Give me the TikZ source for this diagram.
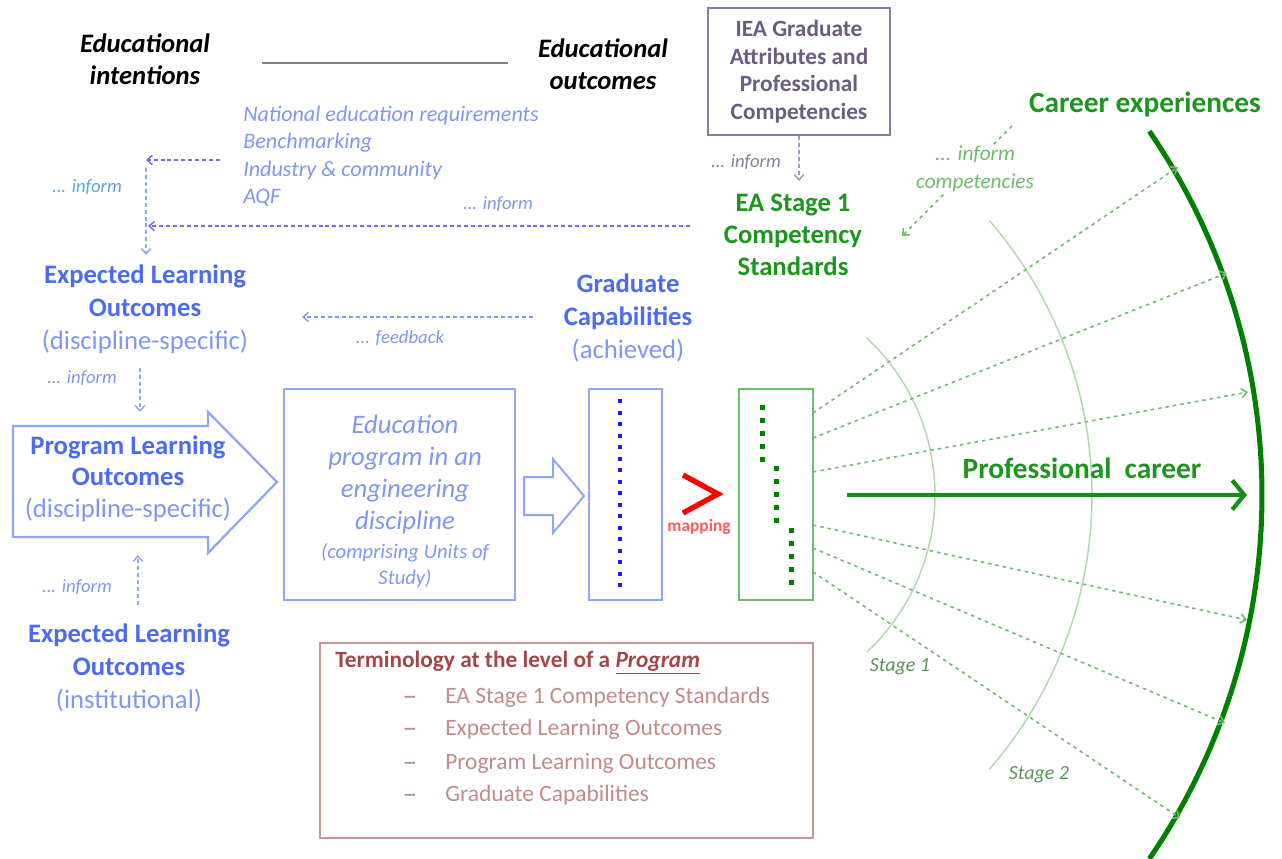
\documentclass[tikz,border=0pt]{standalone}
\usepackage{fontspec}
\setmainfont{Carlito}
\usetikzlibrary{arrows.meta}
\definecolor{tblue}{HTML}{4A6BF2}
\definecolor{lblue}{HTML}{7F97F2}
\definecolor{bblue}{HTML}{8FA6F4}
\definecolor{dblue}{HTML}{7868E6}
\definecolor{iblue}{HTML}{5EA3DC}
\definecolor{egreen}{HTML}{1C961C}
\definecolor{lgreen}{HTML}{6CBD6C}
\definecolor{agreen}{HTML}{AEDAAE}
\definecolor{dgreen}{HTML}{008000}
\definecolor{purp}{HTML}{8A7CA0}
\definecolor{purpt}{HTML}{6B5C82}
\definecolor{tred}{HTML}{A04848}
\definecolor{lred}{HTML}{C48A8A}
\definecolor{rbord}{HTML}{C99494}
\newcommand{\setfs}[2]{\fontsize{#1}{#2}\selectfont}
\tikzset{
  txt/.style={inner sep=0pt, align=center},
  bigtitle/.style={txt, font=\setfs{20}{24.75}, text=tblue},
  smallinf/.style={txt, font=\setfs{14}{17}\itshape},
  bdash/.style={dblue, line width=1.1pt, dash pattern=on 3pt off 2.2pt, -{Straight Barb[length=4pt,width=7pt]}},
  gdash/.style={lgreen, line width=1.2pt, dash pattern=on 2.6pt off 3pt, -{Straight Barb[length=4pt,width=7pt]}},
  bluebox/.style={draw=bblue, line width=1.7pt, inner sep=0pt},
  stagearc/.style={agreen, line width=1.1pt},
}
\begin{document}
\begin{tikzpicture}[x=0.75pt,y=-0.75pt]
\useasboundingbox (0,0) rectangle (1282,859);
\fill[white] (0,0) rectangle (1282,859);

% ---------- top headings ----------
\node[txt, font=\setfs{20}{24}\bfseries\itshape] (intent) at (145,59) {Educational\\intentions};
\node[txt, font=\setfs{20}{24}\bfseries\itshape] (outc) at (603,64) {Educational\\outcomes};
\coordinate (gl1) at (262,63);
\coordinate (gl2) at (508,63);
\draw[line width=2.2pt, black!50] (gl1) -- (gl2);

% ---------- IEA box ----------
\node[draw=purp, line width=1.6pt, minimum width=136.5pt, minimum height=95.25pt, txt,
      font=\setfs{17.5}{20.75}\bfseries, text=purpt] (iea) at (799,71.5)
      {IEA Graduate\\Attributes and\\Professional\\Competencies};
\node[txt, font=\setfs{20}{24}\bfseries, text=egreen] (ea) at (793,235) {EA Stage 1\\Competency\\Standards};
\coordinate (eatop) at (799,181);
\draw[purp!80, line width=1.1pt, dash pattern=on 3pt off 2.2pt, -{Straight Barb[length=4pt,width=7pt]}] (iea.south -| eatop) -- (eatop);
\node[smallinf, text=purp] (inf3) at (746,162) {... inform};

% ---------- blue requirement list ----------
\node[txt, align=left, anchor=west, font=\setfs{16.6}{20.6}\itshape, text=lblue] (list) at (243,156.5)
  {National education requirements\\Benchmarking\\Industry \& community\\AQF};
\coordinate (l1s) at (220,160);
\coordinate (j1) at (146,160);
\coordinate (j1v) at (146,168);
\coordinate (l2s) at (690,226);
\coordinate (j2) at (148,226);
\coordinate (elotop) at (146,255);
\draw[bdash] (l1s) -- (j1);
\draw[bdash] (l2s) -- (j2);
\draw[bdash, bblue] (j1v) -- (elotop);
\node[smallinf, text=iblue] (inf1) at (87,187) {... inform};
\node[smallinf, text=lblue] (inf2) at (498,204) {... inform};

% ---------- expected learning outcomes (discipline) ----------
\node[bigtitle] (elo) at (145,309.5) {\textbf{Expected Learning}\\\textbf{Outcomes}\\\textcolor{lblue}{(discipline-specific)}};

% feedback
\coordinate (fbs) at (533,317);
\coordinate (fbe) at (302,317);
\draw[bdash, lblue] (fbs) -- (fbe);
\node[smallinf, text=lblue] (fbt) at (400,338) {... feedback};

% graduate capabilities
\node[bigtitle] (grad) at (628,317.5) {\textbf{Graduate}\\\textbf{Capabilities}\\\textcolor{lblue}{(achieved)}};

% ---------- program learning outcomes ----------
\node[smallinf, text=lblue] (inf4) at (82,378) {... inform};
\coordinate (pa1) at (140,368);
\coordinate (pa2) at (140,412);
\draw[bdash, bblue] (pa1) -- (pa2);
\draw[bblue, line width=1.7pt, line join=miter] (13,426) -- (208,426) -- (208,412) -- (277,482) -- (208,553) -- (208,537) -- (13,537) -- cycle;
\node[txt, font=\setfs{20}{23.5}, text=tblue] (plo) at (128,478.5) {\textbf{Program Learning}\\\textbf{Outcomes}\\\textcolor{lblue}{(discipline-specific)}};
\coordinate (pb1) at (138,605);
\coordinate (pb2) at (138,555);
\draw[bdash, bblue] (pb1) -- (pb2);
\node[smallinf, text=lblue] (inf5) at (77,587) {... inform};
\node[bigtitle] (eloi) at (129,667.5) {\textbf{Expected Learning}\\\textbf{Outcomes}\\\textcolor{lblue}{(institutional)}};

% ---------- education program box ----------
\node[bluebox, minimum width=173.25pt, minimum height=158.25pt] (edubox) at (399.5,494.5) {};
\node[txt, font=\setfs{20}{24}\itshape, text=lblue] (edutext) at (405,474) {Education\\program in an\\engineering\\discipline};
\node[txt, font=\setfs{15.5}{19.5}\itshape, text=lblue] (educomp) at (405,566) {(comprising Units of\\Study)};

% small arrow
\draw[bblue, line width=1.5pt, line join=miter] (524,477) -- (553,477) -- (553,459) -- (584,496) -- (553,533) -- (553,515) -- (524,515) -- cycle;

% graduate box
\node[bluebox, minimum width=54.75pt, minimum height=158.25pt] (gradbox) at (625.5,494.5) {};
\foreach \i in {0,...,16} \fill[blue!90] (617.5,{399+\i*11.5}) rectangle (621.5,{403+\i*11.5});

% mapping
\draw[red, line width=4pt, line join=miter, miter limit=10] (683,475) -- (718,494) -- (683,513);
\node[txt, font=\setfs{13}{15}\bfseries, text=red!65] (mapt) at (699,527) {mapping};

% green box
\node[draw=lgreen, line width=1.7pt, inner sep=0pt, minimum width=55.5pt, minimum height=158.25pt] (gbox) at (776,494.5) {};
\foreach \x/\y in {762/407, 776/468, 791/530}
  \foreach \i in {0,...,4} \fill[dgreen] ({\x-2.5},{\y+\i*13-2.5}) rectangle ({\x+2.5},{\y+\i*13+2.5});

% ---------- career ----------
\node[txt, font=\setfs{22}{26}\bfseries, text=egreen] (career) at (1145,105) {Career experiences};
\draw[dgreen, line width=3.8pt] plot[domain=-34.4:34.4, samples=80] ({618+644*cos(\x)},{495+644*sin(\x)});
\draw[stagearc] plot[domain=-47:47, samples=60] ({720+215*cos(\x)},{495+215*sin(\x)});
\draw[stagearc] plot[domain=-41:41, samples=60] ({674+418*cos(\x)},{495+418*sin(\x)});
\node[txt, font=\setfs{15}{18}\itshape, text=lgreen!80!black] (st1) at (900,667) {Stage 1};
\node[txt, font=\setfs{15}{18}\itshape, text=lgreen!80!black] (st2) at (1039,775) {Stage 2};

\foreach \n/\ys/\xe/\ye in {1/413/1178/167, 2/438/1227/273, 3/472/1248/392, 4/525/1247/620, 5/548/1225/723, 6/572/1180/818}{
  \coordinate (gs\n) at (813,\ys);
  \coordinate (ge\n) at (\xe,\ye);
  \draw[gdash] (gs\n) -- (ge\n);
}

\coordinate (ics) at (1012,126);
\coordinate (ice) at (902,236);
\draw[gdash] (ics) -- (ice);
\node[txt, fill=white, inner sep=1pt, font=\setfs{16}{21}\itshape, text=lgreen] (infc) at (975,169) {... inform\\competencies};

\node[txt, font=\setfs{22}{26}\bfseries, text=egreen] (prof) at (1082,468) {Professional\ \ career};
\coordinate (pcs) at (847,495);
\coordinate (pce) at (1247,495);
\draw[dgreen!90, line width=3.2pt, -{Straight Barb[length=9pt,width=22pt,line width=3.2pt]}] (pcs) -- (pce);

% ---------- terminology box ----------
\node[draw=rbord, line width=1.6pt, inner sep=0pt, minimum width=369.75pt, minimum height=146.25pt] (term) at (566.5,740.5) {};
\node[txt, anchor=west, font=\setfs{17.5}{20}\bfseries, text=tred] (termt) at (335,663) {Terminology at the level of a \textit{\underline{Program}}};
\foreach \n/\y/\t in {1/697/EA Stage 1 Competency Standards, 2/729/Expected Learning Outcomes, 3/763/Program Learning Outcomes, 4/795/Graduate Capabilities}{
  \node[txt, font=\setfs{22}{24}, text=lred] (td\n) at (410,\y+4) {\textendash};
  \node[txt, anchor=west, font=\setfs{17.6}{20}, text=lred] (ti\n) at (445,\y) {\t};
}
\end{tikzpicture}
\end{document}
